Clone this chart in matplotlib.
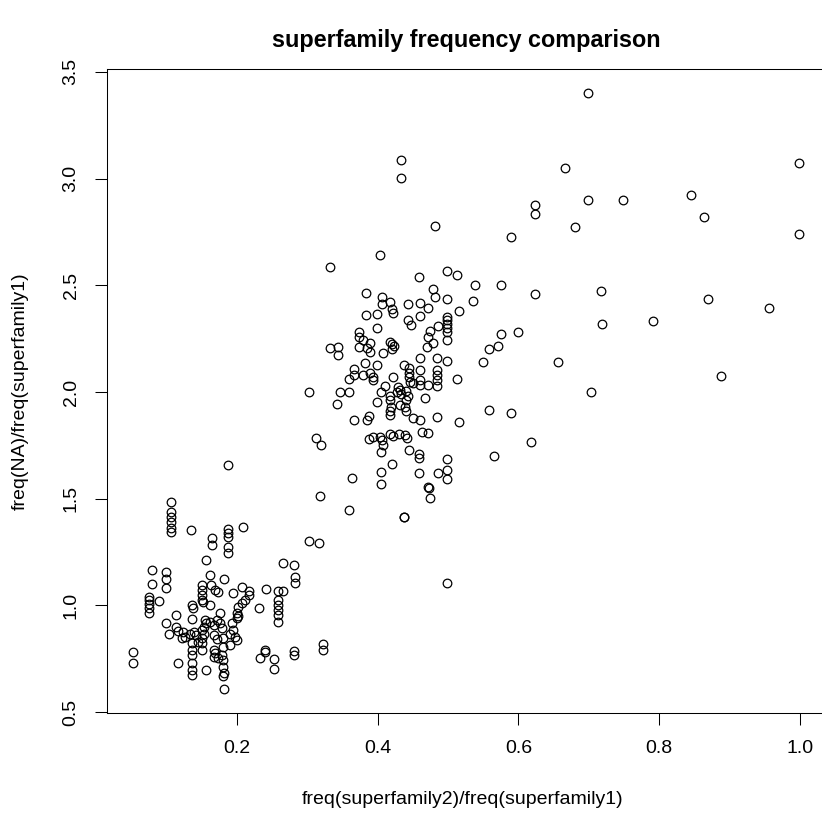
import matplotlib
matplotlib.use("Agg")
import matplotlib.pyplot as plt
import numpy as np

plt.rcParams["font.family"] = ["Liberation Sans", "DejaVu Sans"]

# freq(superfamily2)/freq(superfamily1)
sf2_ratio = [
    0.699, 0.434, 0.434, 0.666, 0.999, 0.699, 0.749, 0.845, 0.863, 0.681, 0.999,
    0.624, 0.624, 0.481, 0.590, 0.718, 0.869, 0.956, 0.719, 0.791, 0.656, 0.888, 0.703,
    0.538, 0.576, 0.624, 0.535, 0.576, 0.599, 0.559, 0.571, 0.550, 0.558, 0.589, 0.618, 0.565,
    0.404, 0.333, 0.459, 0.384, 0.406, 0.406, 0.418, 0.420, 0.422, 0.443, 0.460, 0.384,
    0.399, 0.443, 0.447, 0.461, 0.399, 0.374, 0.374, 0.380, 0.389, 0.374, 0.385, 0.389,
    0.418, 0.421, 0.423, 0.420, 0.333, 0.344, 0.344, 0.408, 0.460, 0.382, 0.366, 0.366,
    0.360, 0.380, 0.399, 0.389, 0.393, 0.394, 0.422, 0.437, 0.444, 0.444, 0.445, 0.446,
    0.451, 0.411, 0.429, 0.432, 0.428, 0.434, 0.346, 0.360, 0.405, 0.440, 0.443, 0.440,
    0.343, 0.399, 0.418, 0.418, 0.419, 0.418, 0.417, 0.432, 0.439, 0.440, 0.451, 0.366,
    0.385, 0.388, 0.303,
    0.498, 0.513, 0.479, 0.481, 0.499, 0.472, 0.515, 0.499, 0.499, 0.499, 0.499, 0.499,
    0.499, 0.475, 0.472, 0.479, 0.470, 0.486, 0.484, 0.499, 0.460, 0.460, 0.460, 0.484,
    0.484, 0.484, 0.484, 0.471, 0.513, 0.468, 0.460, 0.484, 0.515, 0.463, 0.472,
    0.388, 0.394, 0.404, 0.406, 0.408, 0.418, 0.422, 0.431, 0.439, 0.442, 0.445, 0.459,
    0.459, 0.459, 0.405, 0.420, 0.405, 0.405, 0.364, 0.318, 0.360, 0.438, 0.438, 0.317,
    0.486, 0.499, 0.499, 0.499, 0.472, 0.473, 0.475, 0.499, 0.312, 0.319, 0.302,
    0.187, 0.209, 0.188, 0.188, 0.188, 0.165, 0.165, 0.188, 0.188, 0.157, 0.266, 0.282,
    0.162, 0.283, 0.283, 0.182, 0.151, 0.151, 0.151, 0.151, 0.169, 0.173, 0.207, 0.194,
    0.218, 0.217, 0.212, 0.242, 0.259, 0.266, 0.259, 0.259, 0.259, 0.259, 0.259, 0.231,
    0.162, 0.202, 0.207, 0.200, 0.176, 0.193, 0.195, 0.198, 0.200, 0.150, 0.150, 0.150,
    0.169, 0.167, 0.174, 0.181, 0.181, 0.182, 0.157, 0.182, 0.233, 0.240, 0.240, 0.253,
    0.253, 0.282, 0.282, 0.322, 0.322,
    0.107, 0.106, 0.106, 0.106, 0.106, 0.106, 0.135, 0.080, 0.100, 0.100, 0.100, 0.079,
    0.075, 0.075, 0.075, 0.075, 0.075, 0.090, 0.136, 0.138, 0.114, 0.100, 0.114, 0.116,
    0.104, 0.124, 0.122, 0.127, 0.134, 0.136, 0.136, 0.137, 0.136, 0.136, 0.136, 0.053,
    0.053, 0.117,
    0.163, 0.152, 0.202, 0.200, 0.136, 0.155, 0.157, 0.154, 0.162, 0.167, 0.172, 0.176,
    0.179, 0.190, 0.139, 0.142, 0.150, 0.154, 0.145, 0.167, 0.172, 0.181, 0.190, 0.181,
    0.167, 0.179, 0.181,
]

# freq(NA)/freq(superfamily1)
na_ratio = [
    3.400, 3.089, 3.002, 3.049, 3.072, 2.901, 2.900, 2.925, 2.820, 2.775, 2.740,
    2.877, 2.834, 2.779, 2.725, 2.472, 2.436, 2.392, 2.320, 2.334, 2.139, 2.075, 2.001,
    2.501, 2.501, 2.459, 2.426, 2.270, 2.282, 2.201, 2.215, 2.139, 1.914, 1.900, 1.764, 1.701,
    2.644, 2.584, 2.540, 2.465, 2.447, 2.411, 2.422, 2.389, 2.369, 2.411, 2.416, 2.362,
    2.365, 2.337, 2.312, 2.356, 2.301, 2.281, 2.256, 2.244, 2.228, 2.209, 2.205, 2.189,
    2.235, 2.225, 2.215, 2.200, 2.205, 2.209, 2.173, 2.184, 2.158, 2.134, 2.106, 2.079,
    2.059, 2.079, 2.126, 2.090, 2.069, 2.056, 2.072, 2.126, 2.111, 2.090, 2.072, 2.048,
    2.041, 2.028, 2.025, 2.010, 2.000, 1.990, 2.001, 2.001, 2.001, 2.005, 1.980, 1.960,
    1.944, 1.954, 1.980, 1.960, 1.930, 1.910, 1.890, 1.939, 1.930, 1.910, 1.876, 1.869,
    1.869, 1.887, 2.000,
    2.568, 2.548, 2.481, 2.447, 2.434, 2.392, 2.381, 2.353, 2.337, 2.319, 2.298, 2.282,
    2.244, 2.287, 2.259, 2.228, 2.209, 2.309, 2.158, 2.147, 2.103, 2.056, 2.033, 2.103,
    2.079, 2.056, 2.029, 2.033, 2.059, 1.970, 1.869, 1.881, 1.861, 1.814, 1.809,
    1.778, 1.790, 1.790, 1.775, 1.751, 1.803, 1.794, 1.803, 1.800, 1.783, 1.728, 1.709,
    1.689, 1.621, 1.720, 1.661, 1.623, 1.568, 1.597, 1.514, 1.447, 1.415, 1.415, 1.292,
    1.619, 1.684, 1.634, 1.590, 1.556, 1.548, 1.501, 1.106, 1.783, 1.751, 1.301,
    1.658, 1.368, 1.356, 1.340, 1.321, 1.314, 1.282, 1.272, 1.246, 1.212, 1.200, 1.187,
    1.142, 1.134, 1.103, 1.123, 1.095, 1.072, 1.048, 1.025, 1.072, 1.064, 1.087, 1.059,
    1.068, 1.048, 1.025, 1.075, 1.068, 1.068, 1.025, 1.001, 0.978, 0.954, 0.923, 0.986,
    1.001, 0.993, 1.012, 0.965, 0.965, 0.915, 0.884, 0.853, 0.837, 0.845, 0.822, 0.790,
    0.775, 0.759, 0.751, 0.743, 0.712, 0.681, 0.699, 0.609, 0.751, 0.793, 0.782, 0.747,
    0.700, 0.787, 0.767, 0.818, 0.790,
    1.486, 1.436, 1.412, 1.389, 1.361, 1.342, 1.353, 1.165, 1.157, 1.122, 1.080, 1.100,
    1.040, 1.025, 1.006, 0.989, 0.965, 1.021, 1.001, 0.986, 0.954, 0.918, 0.900, 0.881,
    0.865, 0.876, 0.845, 0.853, 0.865, 0.822, 0.790, 0.767, 0.731, 0.696, 0.673, 0.782,
    0.731, 0.728,
    1.095, 1.017, 0.950, 0.939, 0.935, 0.931, 0.915, 0.900, 0.923, 0.908, 0.931, 0.915,
    0.892, 0.868, 0.876, 0.861, 0.884, 0.868, 0.830, 0.861, 0.841, 0.845, 0.814, 0.806,
    0.790, 0.767, 0.670,
]

x_ticks = [0.2, 0.4, 0.6, 0.8, 1.0]
y_ticks = [0.5, 1.0, 1.5, 2.0, 2.5, 3.0, 3.5]

W, H = 822, 814
fig = plt.figure(figsize=(W / 100, H / 100), dpi=100)
ax = fig.add_axes([106.6 / W, 1 - 712.6 / H, (825.9 - 106.6) / W, (712.6 - 69.4) / H])

x = np.array(sf2_ratio)
y = np.array(na_ratio)
ax.plot(x, y, linestyle="none", marker="o", markersize=6.2,
        markerfacecolor="none", markeredgecolor="black", markeredgewidth=0.9)

# base-graphics style 4% padding around the data range
def padded(v):
    lo, hi = v.min(), v.max()
    d = (hi - lo) * 0.04
    return lo - d, hi + d

ax.set_xlim(*padded(x))
ax.set_ylim(*padded(y))

ax.set_xticks(x_ticks)
ax.set_xticklabels([f"{t:.1f}" for t in x_ticks])
ax.set_yticks(y_ticks)
ax.set_yticklabels([f"{t:.1f}" for t in y_ticks])

ax.tick_params(axis="both", direction="out", length=8.4, width=0.75,
               labelsize=14, pad=11, top=False, right=False)
ax.tick_params(axis="y", labelrotation=90)
for lab in ax.get_yticklabels():
    lab.set_va("center")

for s in ax.spines.values():
    s.set_linewidth(0.75)
    s.set_color("black")

fig.text(466 / W, 1 - 40 / H, "superfamily frequency comparison",
         ha="center", va="center", fontsize=16.8, fontweight="bold")
fig.text(463 / W, 1 - 800 / H, "freq(superfamily2)/freq(superfamily1)",
         ha="center", va="center", fontsize=14)
fig.text(20 / W, 1 - 391 / H, "freq(NA)/freq(superfamily1)",
         ha="center", va="center", fontsize=14, rotation=90)

fig.savefig("out.png", dpi=100)
